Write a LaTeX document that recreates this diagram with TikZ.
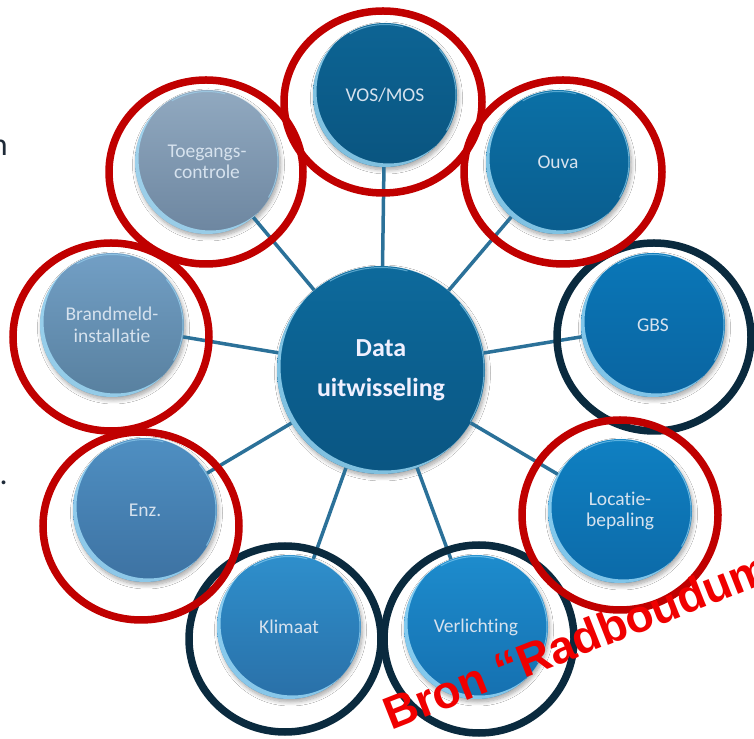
\documentclass[tikz,border=0pt]{standalone}
\usepackage{fontspec}
\setmainfont{Carlito}[Ligatures=NoCommon]
\newfontfamily\redfont{Liberation Sans}
\usetikzlibrary{shadows.blur}
\definecolor{txt}{HTML}{D6E2EE}
\definecolor{spokec}{HTML}{2B7199}
\definecolor{ringred}{HTML}{C00000}
\definecolor{ringdark}{HTML}{0A2A3E}
\definecolor{hlc}{HTML}{A8E4FF}
\definecolor{redtxt}{HTML}{F00000}
\definecolor{residual}{HTML}{1E2A38}
\definecolor{cT}{HTML}{0D6A9C}\definecolor{cB}{HTML}{0A5582}
\definecolor{vosT}{HTML}{0D6494}\definecolor{vosB}{HTML}{0A5580}
\definecolor{ouvaT}{HTML}{0B70A6}\definecolor{ouvaB}{HTML}{0A5D8E}
\definecolor{gbsT}{HTML}{0A77B8}\definecolor{gbsB}{HTML}{0A64A0}
\definecolor{locT}{HTML}{0F80C2}\definecolor{locB}{HTML}{0C6AA8}
\definecolor{verlT}{HTML}{1D8CCD}\definecolor{verlB}{HTML}{1570B0}
\definecolor{klimT}{HTML}{2E8FCC}\definecolor{klimB}{HTML}{2A70A8}
\definecolor{enzT}{HTML}{4F8FC2}\definecolor{enzB}{HTML}{3D72A2}
\definecolor{brandT}{HTML}{729FC5}\definecolor{brandB}{HTML}{58809F}
\definecolor{toegT}{HTML}{91A9C0}\definecolor{toegB}{HTML}{6D86A0}
\newcommand\glassify[2]{%
  \begin{scope}
    \clip (#1.center) circle (#2);
    \fill[hlc, opacity=0.75, even odd rule] (#1.center) circle (#2) ([shift={(3.5,3.5)}]#1.center) circle (#2);
  \end{scope}
  \draw[hlc, line width=1pt, opacity=0.6] (#1.center) ++(-30:#2-1) arc[start angle=-30, end angle=40, radius=#2-1];
  \draw[hlc, line width=1pt, opacity=0.5] (#1.center) ++(75:#2-1.5) arc[start angle=75, end angle=120, radius=#2-1.5];
}
\tikzset{
  glass/.style 2 args={circle, inner sep=0pt, top color=#1, bottom color=#2, align=center,
    blur shadow={shadow xshift=1.5pt, shadow yshift=-3pt, shadow blur steps=8, shadow opacity=35, shadow blur radius=4pt}},
  sat/.style 2 args={glass={#1}{#2}, minimum size=144pt, text=txt, font=\fontsize{19.5}{21.5}\selectfont},
  hub/.style 2 args={glass={#1}{#2}, minimum size=208pt, text=white!94!blue, font=\bfseries\fontsize{26}{40}\selectfont},
  spoke/.style={draw=spokec, line width=3.5pt},
  redring/.style={draw=ringred, line width=7.5pt},
  darkring/.style={draw=ringdark, line width=7.5pt},
}
\begin{document}
\begin{tikzpicture}[x=1pt, y=1pt]
\useasboundingbox (0,0) rectangle (754,738);
\clip (0,0) rectangle (754,738);
\fill[white] (0,0) rectangle (754,738);

% residual slide text at left edge
\node[anchor=base east, inner sep=0pt, text=residual, font=\fontsize{32}{32}\selectfont] (resn) at (8,582) {n};
\node[anchor=base east, inner sep=0pt, text=residual, font=\fontsize{32}{32}\selectfont] (resdot) at (8,253) {.};

% nodes
\node[hub={cT}{cB}] (c) at (381,368) {Data\\uitwisseling};
\node[sat={vosT}{vosB}] (vos) at (385,643) {VOS/MOS};
\node[sat={ouvaT}{ouvaB}] (ouva) at (558,576) {Ouva};
\node[sat={gbsT}{gbsB}] (gbs) at (653,413) {GBS};
\node[sat={locT}{locB}] (loc) at (620,227) {Locatie-\\bepaling};
\node[sat={verlT}{verlB}] (verl) at (476,111) {Verlichting};
\node[sat={klimT}{klimB}] (klim) at (289,111) {Klimaat};
\node[sat={enzT}{enzB}] (enz) at (145,228) {Enz.};
\node[sat={brandT}{brandB}] (brand) at (112,413) {Brandmeld-\\installatie};
\node[sat={toegT}{toegB}] (toeg) at (207,576) {Toegangs-\\controle};

\glassify{c}{104}
\foreach \n in {vos,ouva,gbs,loc,verl,klim,enz,brand,toeg} {\glassify{\n}{72}}

% spokes
\foreach \n in {vos,ouva,gbs,loc,verl,klim,enz,brand,toeg} {\draw[spoke] (c) -- (\n);}

% rings
\draw[darkring] (654,401) ellipse [x radius=97, y radius=94];
\draw[darkring] (285,99) ellipse [x radius=96, y radius=93];
\draw[darkring] (479,99) ellipse [x radius=95, y radius=94];
\draw[redring] (383,636) ellipse [x radius=99, y radius=91];
\draw[redring] (206,566) ellipse [x radius=97, y radius=92];
\draw[redring] (563,566) ellipse [x radius=99, y radius=92];
\draw[redring] (111,401) ellipse [x radius=98, y radius=94];
\draw[redring] (141,212) ellipse [x radius=98, y radius=94];
\draw[redring] (620,223) ellipse [x radius=98, y radius=95];

% source note
\node[rotate=21.5, anchor=base west, inner sep=0pt, text=redtxt, font=\redfont\bfseries\fontsize{46}{46}\selectfont] (bron) at (391,7) {Bron “Radboudum};
\end{tikzpicture}
\end{document}
